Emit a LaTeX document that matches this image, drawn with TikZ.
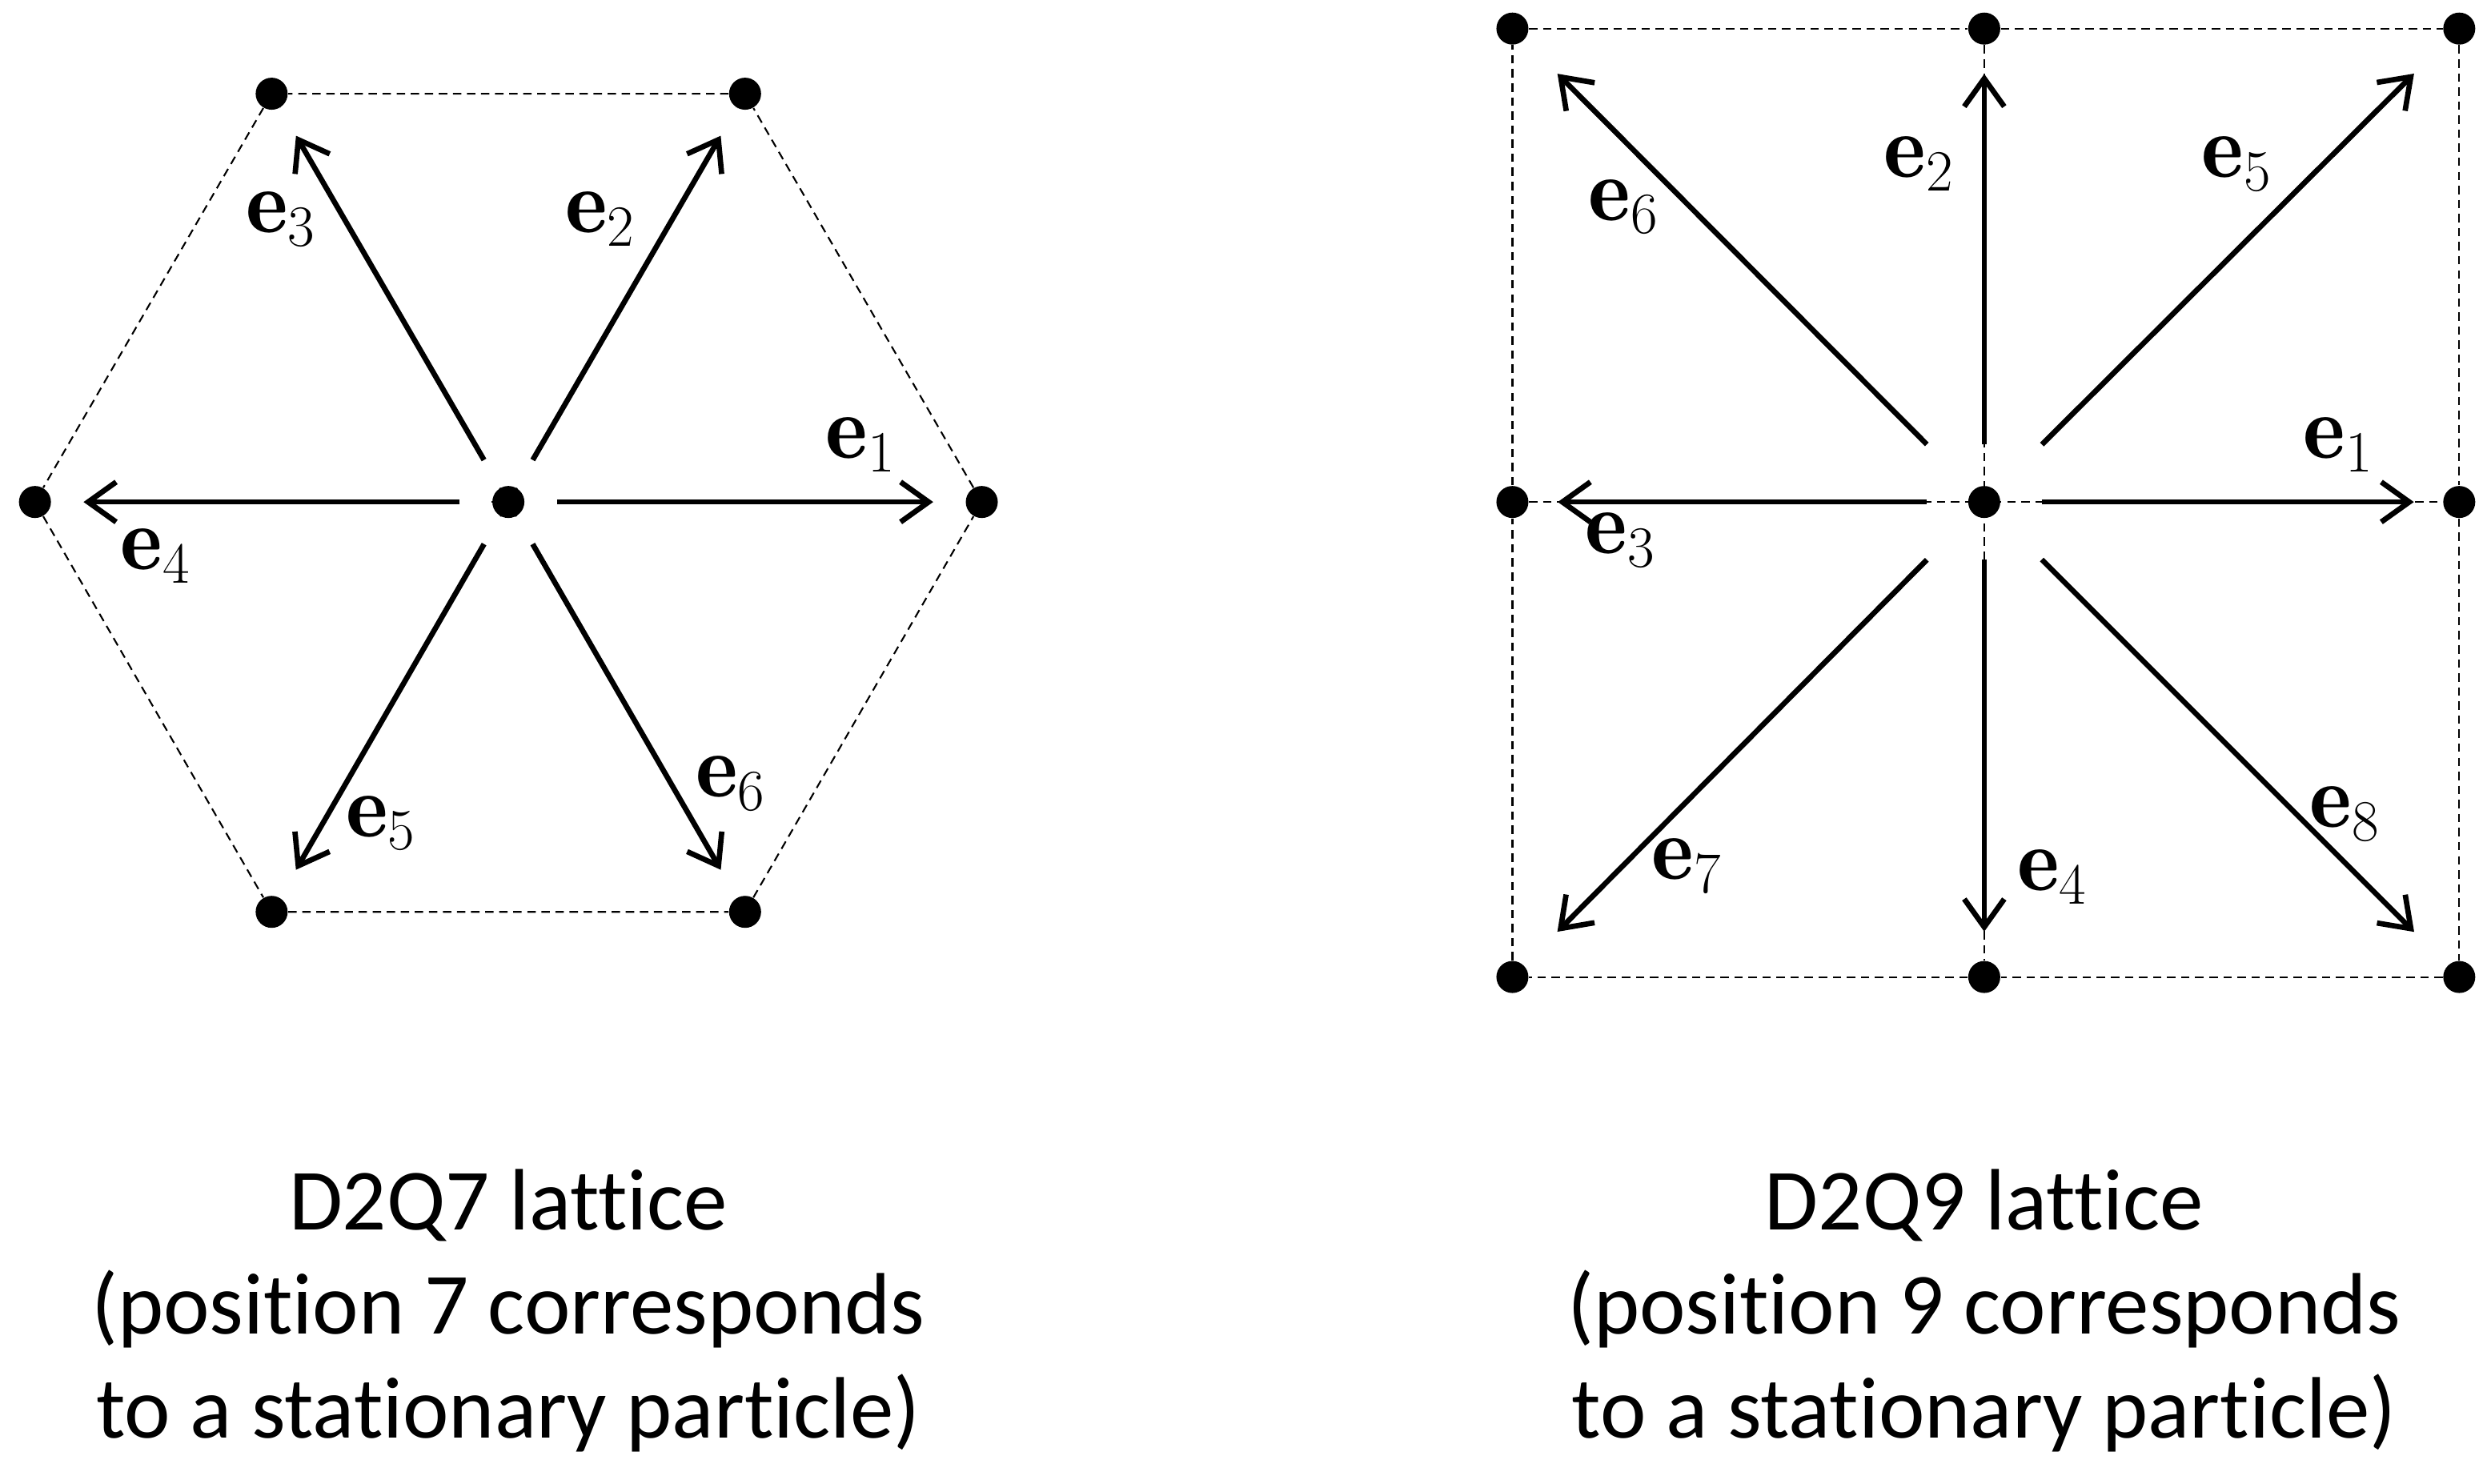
\documentclass[tikz,border=0pt]{standalone}
\usepackage{amsmath}
\usepackage{fontspec}
\newfontfamily\capfont[Ligatures=NoCommon]{Carlito}
\usetikzlibrary{arrows.meta}
\tikzset{
  site/.style={circle,fill=black,inner sep=0pt,minimum size=0.4cm},
  grid/.style={densely dashed,line width=0.6pt},
  vec/.style={line width=1.9pt,-{Straight Barb[length=0.35cm,width=0.5cm,line width=1.9pt]}},
  lab/.style={font=\fontsize{32}{38}\selectfont},
  caption/.style={font=\capfont\fontsize{31}{37}\selectfont,align=center}
}
\begin{document}
\begin{tikzpicture}[x=0.01985cm,y=-0.01985cm]
    \useasboundingbox (0,0) rectangle (1568,934);

    % D2Q7
    \node[site] (hc) at (320,316) {};
    \foreach \i/\x/\y in {1/618/316,2/469/59,3/171/59,4/22/316,5/171/574,6/469/574}
        \node[site] (h\i) at (\x,\y) {};
    \draw[grid] (h1) -- (h2) -- (h3) -- (h4) -- (h5) -- (h6) -- (h1);
    \draw[grid] (h4) -- (h1);
    \draw[grid] (h3) -- (h6);
    \draw[grid] (h2) -- (h5);
    \foreach \i in {1,...,6}
        \draw[vec,white,line width=6pt,-] (hc) -- (h\i);
    \foreach \i in {1,...,6}
        \draw[vec,shorten <=0.4cm,shorten >=0.4cm] (hc) -- (h\i);

    \node[lab] (l1) at (542,280) {$\mathbf{e}_1$};
    \node[lab] (l2) at (378,138) {$\mathbf{e}_2$};
    \node[lab] (l3) at (177,138) {$\mathbf{e}_3$};
    \node[lab] (l4) at (98,350)  {$\mathbf{e}_4$};
    \node[lab] (l5) at (240,518) {$\mathbf{e}_5$};
    \node[lab] (l6) at (460,493) {$\mathbf{e}_6$};

    % D2Q9
    \node[site] (sc) at (1249,316) {};
    \foreach \i/\x/\y in {1/1548/316,2/1249/18,3/952/316,4/1249/615,5/1548/18,6/952/18,7/952/615,8/1548/615}
        \node[site] (s\i) at (\x,\y) {};
    \draw[grid] (s6) -- (s2) -- (s5) -- (s1) -- (s8) -- (s4) -- (s7) -- (s3) -- (s6);
    \draw[grid] (s3) -- (s1);
    \draw[grid] (s2) -- (s4);
    \foreach \i in {1,...,4}
        \draw[vec,shorten <=0.51cm,shorten >=0.36cm] (sc) -- (s\i);
    \foreach \i in {5,...,8}
        \draw[vec,shorten <=0.81cm,shorten >=0.59cm] (sc) -- (s\i);

    \node[lab] (m1) at (1472,280) {$\mathbf{e}_1$};
    \node[lab] (m2) at (1208,103) {$\mathbf{e}_2$};
    \node[lab] (m3) at (1020,340) {$\mathbf{e}_3$};
    \node[lab] (m4) at (1292,552) {$\mathbf{e}_4$};
    \node[lab] (m5) at (1408,103) {$\mathbf{e}_5$};
    \node[lab] (m6) at (1022,130) {$\mathbf{e}_6$};
    \node[lab] (m7) at (1062,545) {$\mathbf{e}_7$};
    \node[lab] (m8) at (1476,512) {$\mathbf{e}_8$};

    % captions
    \node[caption] (c7) at (320,825) {D2Q7 lattice\\(position 7 corresponds\\to a stationary particle)};
    \node[caption] (c9) at (1249,825) {D2Q9 lattice\\(position 9 corresponds\\to a stationary particle)};
\end{tikzpicture}
\end{document}
